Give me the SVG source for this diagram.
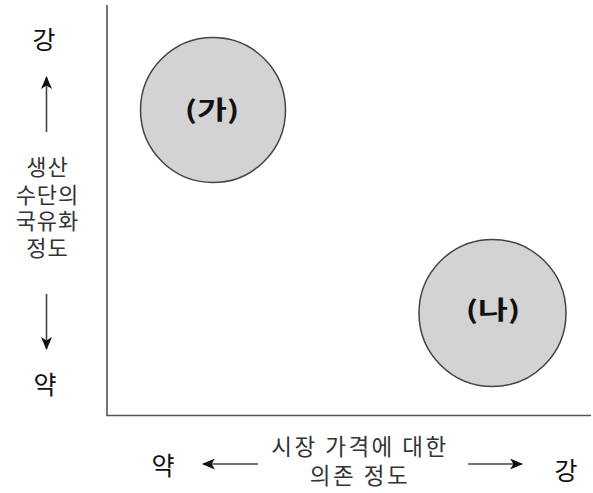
<svg xmlns="http://www.w3.org/2000/svg" width="593" height="493" viewBox="0 0 593 493">
<style>
text{font-family:"Noto Sans CJK KR","Noto Sans",sans-serif;fill:#222}
.big{font-size:25px;fill:#111}
.lbl{font-size:22px;fill:#333;letter-spacing:1px}
.bot{font-size:22.5px;fill:#333;letter-spacing:2.5px}
.cl{font-size:25px;font-weight:bold;fill:#111}
.axis{stroke:#555;stroke-width:1.6;fill:none}
.arr{stroke:#444;stroke-width:1.6;fill:none;marker-end:url(#ah)}
.circ{fill:#d3d3d3;stroke:#444;stroke-width:1.5}
</style>
<defs>
<marker id="ah" viewBox="0 0 13 11" refX="12" refY="5.5" markerWidth="13" markerHeight="11" markerUnits="userSpaceOnUse" orient="auto">
<path d="M0,0 L13,5.5 L0,11 L3.5,5.5 z" fill="#111"/>
</marker>
</defs>
<g id="axes">
<polyline class="axis" points="107,5 107,415.5 591,415.5"/>
</g>
<g id="connectors">
<line class="arr" x1="46.5" y1="132" x2="46.5" y2="77"/>
<line class="arr" x1="46.5" y1="294" x2="46.5" y2="349"/>
<line class="arr" x1="258" y1="464" x2="203" y2="464"/>
<line class="arr" x1="468" y1="464" x2="522" y2="464"/>
</g>
<g id="y-labels">
<text class="big" x="44" y="49" text-anchor="middle">강</text>
<text class="lbl" text-anchor="middle"><tspan x="47.5" y="175">생산</tspan><tspan x="47.5" y="203">수단의</tspan><tspan x="47.5" y="229">국유화</tspan><tspan x="47.5" y="256">정도</tspan></text>
<text class="big" x="45" y="394" text-anchor="middle">약</text>
</g>
<g id="x-labels">
<text class="big" x="163" y="475" text-anchor="middle">약</text>
<text class="bot" text-anchor="middle"><tspan x="360" y="455">시장 가격에 대한</tspan><tspan x="360" y="484">의존 정도</tspan></text>
<text class="big" x="566" y="480" text-anchor="middle">강</text>
</g>
<g id="node-ga">
<circle class="circ" cx="213" cy="110" r="72.5"/>
<text class="cl" transform="translate(212,119) scale(1.3,1)" text-anchor="middle">(가)</text>
</g>
<g id="node-na">
<circle class="circ" cx="492.5" cy="313" r="73.5"/>
<text class="cl" transform="translate(493,319) scale(1.3,1)" text-anchor="middle">(나)</text>
</g>
</svg>
